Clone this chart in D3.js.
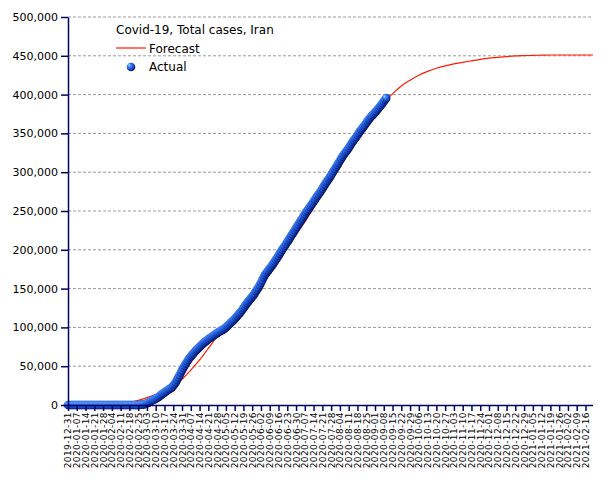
<!DOCTYPE html>
<html>
<head>
<meta charset="utf-8">
<script src="https://cdn.jsdelivr.net/npm/d3@7"></script>
<style>
  body { margin: 0; background: #fff; }
  svg { font-family: "DejaVu Sans", Verdana, sans-serif; }
</style>
</head>
<body>
<div id="chart"></div>
<script>
// Valori: casi totali Iran (giornalieri dal 2019-12-31)
const actualStart = "2019-12-31";
const actualCases = [
  0, 0, 0, 0, 0, 0, 0, 0, 0, 0,
  0, 0, 0, 0, 0, 0, 0, 0, 0, 0,
  0, 0, 0, 0, 0, 0, 0, 0, 0, 0,
  0, 0, 0, 0, 0, 0, 0, 0, 0, 0,
  0, 0, 0, 0, 0, 0, 0, 0, 0, 0,
  2, 5, 18, 28, 43, 61, 95, 139, 245, 388, 593,
  978, 1501, 2336, 2922, 3513, 4747, 5823, 6566, 7161, 8042,
  9000, 10075, 11364, 12729, 13938, 14991, 16169, 17361, 18407, 19644,
  20610, 21638, 23049, 24811, 27017, 29406, 32332, 35408, 38309, 41495, 44605,
  47593, 50468, 53183, 55743, 58226, 60500, 62589, 64586, 66220, 68192,
  70029, 71686, 73303, 74877, 76389, 77995, 79494, 80868, 82211, 83505,
  84802, 85996, 87026, 88194, 89328, 90481, 91472, 92584, 93657, 94640,
  95646, 96448, 97424, 98647, 99970, 101650, 103135, 104691, 106220, 107603,
  109286, 110767, 112725, 114533, 116635, 118392, 120198, 122492, 124603, 126949,
  129341, 131652, 133521, 135701, 137724, 139511, 141591, 143849, 146668, 148950, 151466,
  154445, 157562, 160696, 164270, 167156, 169425, 171789, 173832, 175927, 177938,
  180156, 182525, 184955, 187427, 189876, 192439, 195051, 197647, 200262, 202584,
  204952, 207525, 209970, 212501, 215096, 217724, 220180, 222669, 225205, 227662,
  230211, 232863, 235429, 237878, 240438, 243051, 245688, 248379, 250458, 252720,
  255117, 257303, 259652, 262173, 264561, 267061, 269440, 271606, 273788, 276202,
  278827, 281413, 284034, 286523, 288839, 291172, 293606, 296273, 298909, 301530, 304204,
  306752, 309437, 312035, 314786, 317483, 320117, 322567, 324692, 326712, 328844,
  331189, 333699, 336324, 338825, 341070, 343203, 345450, 347835, 350279, 352558,
  354764, 356792, 358905, 361150, 363363, 365606, 367796, 369911, 371816, 373570, 375212,
  376894, 378752, 380746, 382772, 384666, 386658, 388810, 391112, 393425, 395488
];

const forecastDates = [
  "2020-01-28", "2020-02-04", "2020-02-11", "2020-02-18", "2020-02-25",
  "2020-03-03", "2020-03-10", "2020-03-17", "2020-03-24", "2020-03-31",
  "2020-04-07", "2020-04-14", "2020-04-21", "2020-04-28", "2020-05-05",
  "2020-05-12", "2020-05-19", "2020-05-26", "2020-06-02", "2020-06-09",
  "2020-06-16", "2020-06-23", "2020-06-30", "2020-07-07", "2020-07-14",
  "2020-07-21", "2020-07-28", "2020-08-04", "2020-08-11", "2020-08-18",
  "2020-08-25", "2020-09-01", "2020-09-08", "2020-09-15", "2020-09-22",
  "2020-09-29", "2020-10-06", "2020-10-13", "2020-10-20", "2020-10-27",
  "2020-11-03", "2020-11-10", "2020-11-17", "2020-11-24", "2020-12-01",
  "2020-12-08", "2020-12-15", "2020-12-22", "2020-12-29", "2021-01-05",
  "2021-01-12", "2021-01-19", "2021-01-26", "2021-02-02", "2021-02-09",
  "2021-02-16", "2021-02-22"
];
const forecastCases = [
  0, 300, 1200, 3000, 6000,
  9500, 13500, 18000, 24000, 33000,
  45000, 58000, 73000, 88000, 101000,
  116000, 130000, 143000, 156000, 172000,
  188000, 204000, 220000, 236000, 254000,
  274000, 294000, 313000, 330000, 346000,
  361000, 375000, 390000, 401000, 411000,
  418500, 425000, 430000, 434000, 437000,
  439500, 441500, 443500, 445500, 447000,
  448000, 449000, 449800, 450200, 450500,
  450800, 451000, 451000, 451000, 451000,
  451000, 451000
];

const yTicks = [0, 50000, 100000, 150000, 200000, 250000, 300000, 350000, 400000, 450000, 500000];
const xTickLabels = [
  "2019-12-31", "2020-01-07", "2020-01-14", "2020-01-21", "2020-01-28",
  "2020-02-04", "2020-02-11", "2020-02-18", "2020-02-25", "2020-03-03",
  "2020-03-10", "2020-03-17", "2020-03-24", "2020-03-31", "2020-04-07",
  "2020-04-14", "2020-04-21", "2020-04-28", "2020-05-05", "2020-05-12",
  "2020-05-19", "2020-05-26", "2020-06-02", "2020-06-09", "2020-06-16",
  "2020-06-23", "2020-06-30", "2020-07-07", "2020-07-14", "2020-07-21",
  "2020-07-28", "2020-08-04", "2020-08-11", "2020-08-18", "2020-08-25",
  "2020-09-01", "2020-09-08", "2020-09-15", "2020-09-22", "2020-09-29",
  "2020-10-06", "2020-10-13", "2020-10-20", "2020-10-27", "2020-11-03",
  "2020-11-10", "2020-11-17", "2020-11-24", "2020-12-01", "2020-12-08",
  "2020-12-15", "2020-12-22", "2020-12-29", "2021-01-05", "2021-01-12",
  "2021-01-19", "2021-01-26", "2021-02-02", "2021-02-09", "2021-02-16"
];
const xDomainEnd = "2021-02-22";

const chartW = 605, chartH = 480;
const plotLeft = 68, plotRight = 593, plotTop = 17, plotBottom = 405;
const axisColor = "#000066";
const red = "#ff1a00";

const parse = d3.utcParse("%Y-%m-%d");
const t0 = parse(actualStart);

const actual = actualCases.map((v, i) => ({ date: d3.utcDay.offset(t0, i), value: v }));
const forecast = forecastDates.map((d, i) => ({ date: parse(d), value: forecastCases[i] }));

const x = d3.scaleUtc()
    .domain([t0, parse(xDomainEnd)])
    .range([plotLeft, plotRight]);

const y = d3.scaleLinear()
    .domain([0, 500000])
    .range([plotBottom, plotTop]);

const svg = d3.select("#chart")
    .append("svg")
    .attr("width", chartW)
    .attr("height", chartH);

// Gradiente per i marker sferici
const grad = svg.append("defs").append("radialGradient")
    .attr("id", "ball")
    .attr("cx", "40%").attr("cy", "40%").attr("r", "65%")
    .attr("fx", "28%").attr("fy", "28%");
grad.append("stop").attr("offset", "0%").attr("stop-color", "#b4dcff");
grad.append("stop").attr("offset", "30%").attr("stop-color", "#3f82f2");
grad.append("stop").attr("offset", "65%").attr("stop-color", "#1a4fd0");
grad.append("stop").attr("offset", "100%").attr("stop-color", "#020c55");

// Griglia orizzontale tratteggiata
svg.append("g")
    .selectAll("line")
    .data(yTicks.filter(d => d > 0))
    .join("line")
    .attr("x1", plotLeft)
    .attr("x2", plotRight)
    .attr("y1", d => y(d))
    .attr("y2", d => y(d))
    .attr("stroke", "#999")
    .attr("stroke-width", 1)
    .attr("stroke-dasharray", "3,2");

// Linea di previsione
svg.append("path")
    .datum(forecast)
    .attr("fill", "none")
    .attr("stroke", red)
    .attr("stroke-width", 1.2)
    .attr("d", d3.line()
        .x(d => x(d.date))
        .y(d => y(d.value))
        .curve(d3.curveMonotoneX));

// Dati reali
svg.append("g")
    .selectAll("circle")
    .data(actual)
    .join("circle")
    .attr("cx", d => x(d.date))
    .attr("cy", d => y(d.value))
    .attr("r", 4.3)
    .attr("fill", "url(#ball)");

// Asse Y
const yAxis = svg.append("g")
    .attr("transform", `translate(${plotLeft},0)`)
    .call(d3.axisLeft(y)
        .tickValues(yTicks)
        .tickFormat(d3.format(","))
        .tickSize(7)
        .tickSizeOuter(0)
        .tickPadding(3));
yAxis.selectAll("path, line").attr("stroke", axisColor).attr("stroke-width", 1.5);
yAxis.selectAll("text")
    .attr("fill", "#000")
    .style("font-size", "11px")
    .style("font-family", "DejaVu Sans");

// Asse X
const xAxis = svg.append("g")
    .attr("transform", `translate(0,${plotBottom})`)
    .call(d3.axisBottom(x)
        .tickValues(xTickLabels.map(parse))
        .tickFormat(d3.utcFormat("%Y-%m-%d"))
        .tickSize(6)
        .tickSizeOuter(0));
xAxis.select("path").attr("d", `M${plotLeft},0.5H${plotRight}`);
xAxis.selectAll("path, line").attr("stroke", axisColor).attr("stroke-width", 1.5);
xAxis.selectAll("text")
    .attr("transform", "rotate(-90)")
    .attr("x", -7)
    .attr("y", 0)
    .attr("dy", "0.33em")
    .attr("fill", "#000")
    .style("text-anchor", "end")
    .style("font-size", "9px")
    .style("letter-spacing", "0.4px")
    .style("font-family", "DejaVu Sans");

// Legenda
const legend = svg.append("g");
legend.append("text")
    .attr("x", 116)
    .attr("y", 34)
    .style("font-size", "12px")
    .attr("fill", "#000")
    .text("Covid-19, Total cases, Iran");
legend.append("line")
    .attr("x1", 116).attr("x2", 146)
    .attr("y1", 48).attr("y2", 48)
    .attr("stroke", red)
    .attr("stroke-width", 1.2);
legend.append("text")
    .attr("x", 149)
    .attr("y", 53)
    .style("font-size", "12px")
    .attr("fill", "#000")
    .text("Forecast");
legend.append("circle")
    .attr("cx", 131)
    .attr("cy", 67)
    .attr("r", 4.3)
    .attr("fill", "url(#ball)");
legend.append("text")
    .attr("x", 149)
    .attr("y", 71)
    .style("font-size", "12px")
    .attr("fill", "#000")
    .text("Actual");
</script>
</body>
</html>
